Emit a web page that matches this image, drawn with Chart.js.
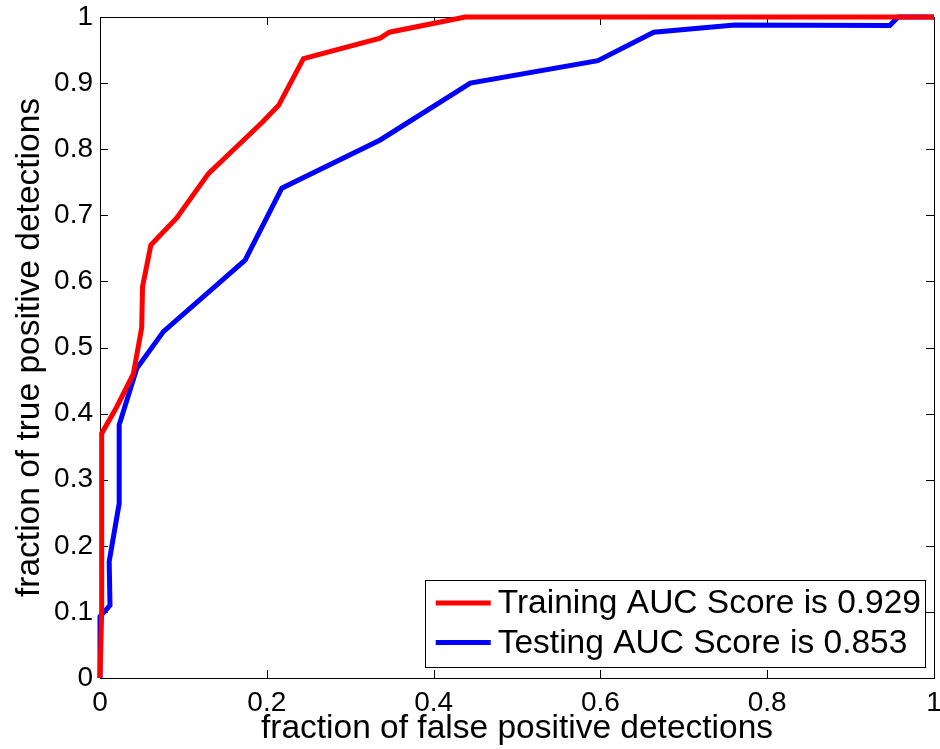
<!DOCTYPE html>
<html>
<head>
<meta charset="utf-8">
<script src="https://cdn.jsdelivr.net/npm/chart.js@4"></script>
<style>
  html, body { margin: 0; padding: 0; background: #fff; }
</style>
</head>
<body>
<canvas id="rocChart" width="940" height="749"></canvas>
<script>
// ROC curves
var trainFpr = [0, 0.002, 0.002, 0.02, 0.04, 0.05, 0.051, 0.061, 0.092, 0.13, 0.194, 0.214, 0.244, 0.336, 0.347, 0.438, 1];
var trainTpr = [0, 0.1, 0.37, 0.41, 0.46, 0.53, 0.592, 0.655, 0.696, 0.763, 0.84, 0.866, 0.937, 0.968, 0.977, 1, 1];
var testFpr = [0, 0, 0.012, 0.011, 0.023, 0.023, 0.044, 0.076, 0.174, 0.218, 0.336, 0.444, 0.597, 0.664, 0.761, 0.947, 0.957, 1];
var testTpr = [0, 0.093, 0.11, 0.176, 0.264, 0.383, 0.468, 0.524, 0.632, 0.741, 0.814, 0.9, 0.934, 0.977, 0.988, 0.987, 1, 1];
var seriesLabels = ['Training AUC Score is 0.929', 'Testing AUC Score is 0.853'];
var xTickValues = [0, 0.2, 0.4, 0.6, 0.8, 1];
var yTickValues = [0, 0.1, 0.2, 0.3, 0.4, 0.5, 0.6, 0.7, 0.8, 0.9, 1];

var FONT = '"Liberation Sans", Arial, Helvetica, sans-serif';
Chart.defaults.font.family = FONT;
Chart.defaults.color = '#000';

function toPoints(xs, ys) {
    return xs.map(function (x, i) { return { x: x, y: ys[i] }; });
}

// matlab-like box with ticks pointing inwards
var axesBox = {
    id: 'axesBox',
    beforeDatasetsDraw: function (chart) {
        var ctx = chart.ctx, a = chart.chartArea;
        var xs = chart.scales.x, ys = chart.scales.y;
        var len = 8;
        ctx.save();
        ctx.strokeStyle = '#000';
        ctx.lineWidth = 1;
        ctx.beginPath();
        xTickValues.forEach(function (v) {
            var px = Math.round(xs.getPixelForValue(v)) + 0.5;
            ctx.moveTo(px, a.bottom); ctx.lineTo(px, a.bottom - len);
            ctx.moveTo(px, a.top); ctx.lineTo(px, a.top + len);
        });
        yTickValues.forEach(function (v) {
            var py = Math.round(ys.getPixelForValue(v)) + 0.5;
            ctx.moveTo(a.left, py); ctx.lineTo(a.left + len, py);
            ctx.moveTo(a.right, py); ctx.lineTo(a.right - len, py);
        });
        ctx.stroke();
        ctx.strokeRect(Math.round(a.left) + 0.5, Math.round(a.top) + 0.5,
            Math.round(a.right - a.left), Math.round(a.bottom - a.top));
        ctx.restore();
    }
};

var legendBox = {
    id: 'legendBox',
    afterDraw: function (chart) {
        var ctx = chart.ctx, a = chart.chartArea;
        ctx.save();
        ctx.font = '33.5px ' + FONT;
        var w = 0;
        chart.data.datasets.forEach(function (ds) {
            w = Math.max(w, ctx.measureText(ds.label).width);
        });
        var rowH = 39.5, lineLen = 55;
        var boxW = 11 + lineLen + 7 + w + 4;
        var boxH = 87;
        var right = a.right - 9, bottom = a.bottom - 11;
        var left = right - boxW, top = bottom - boxH;
        ctx.fillStyle = '#fff';
        ctx.fillRect(left, top, boxW, boxH);
        ctx.strokeStyle = '#000';
        ctx.lineWidth = 1;
        ctx.strokeRect(Math.round(left) + 0.5, Math.round(top) + 0.5, Math.round(boxW), Math.round(boxH));
        chart.data.datasets.forEach(function (ds, i) {
            var y = top + 23 + i * rowH;
            ctx.strokeStyle = ds.borderColor;
            ctx.lineWidth = 5;
            ctx.beginPath();
            ctx.moveTo(left + 11, y);
            ctx.lineTo(left + 11 + lineLen, y);
            ctx.stroke();
            ctx.fillStyle = '#000';
            ctx.textBaseline = 'middle';
            ctx.textAlign = 'left';
            ctx.fillText(ds.label, left + 11 + lineLen + 7, y + 1);
        });
        ctx.restore();
    }
};

function plainLabel(v) { return String(v); }

var ctx = document.getElementById('rocChart').getContext('2d');
var rocChart = new Chart(ctx, {
    type: 'line',
    data: {
        datasets: [{
            label: seriesLabels[0],
            data: toPoints(trainFpr, trainTpr),
            borderColor: '#ff0000',
            borderWidth: 5,
            pointRadius: 0,
            tension: 0,
            fill: false,
            clip: 10
        }, {
            label: seriesLabels[1],
            data: toPoints(testFpr, testTpr),
            borderColor: '#0000ff',
            borderWidth: 5,
            pointRadius: 0,
            tension: 0,
            fill: false,
            clip: 10
        }]
    },
    options: {
        responsive: false,
        animation: false,
        layout: { padding: { top: 17, right: 6, left: 0, bottom: 0 } },
        plugins: {
            legend: { display: false },
            tooltip: { enabled: false }
        },
        scales: {
            x: {
                type: 'linear',
                min: 0,
                max: 1,
                afterBuildTicks: function (scale) {
                    scale.ticks = xTickValues.map(function (v) { return { value: v }; });
                },
                afterFit: function (scale) {
                    scale.height = 71;
                    scale.paddingLeft = 0;
                    scale.paddingRight = 0;
                },
                grid: { display: false, drawTicks: false },
                border: { display: false },
                ticks: { font: { size: 28 }, padding: 8, maxRotation: 0, autoSkip: false, callback: plainLabel },
                title: {
                    display: true,
                    text: 'fraction of false positive detections',
                    font: { size: 33.5, lineHeight: 1 },
                    padding: { top: 0, bottom: 3 }
                }
            },
            y: {
                type: 'linear',
                min: 0,
                max: 1,
                afterBuildTicks: function (scale) {
                    scale.ticks = yTickValues.map(function (v) { return { value: v }; });
                },
                afterFit: function (scale) {
                    scale.width = 100;
                    scale.paddingTop = 0;
                    scale.paddingBottom = 0;
                },
                grid: { display: false, drawTicks: false },
                border: { display: false },
                ticks: { font: { size: 28 }, padding: 7, autoSkip: false, callback: plainLabel },
                title: {
                    display: true,
                    text: 'fraction of true positive detections',
                    font: { size: 33.5, lineHeight: 1 },
                    padding: { top: 13, bottom: 0 }
                }
            }
        }
    },
    plugins: [axesBox, legendBox]
});
</script>
</body>
</html>
